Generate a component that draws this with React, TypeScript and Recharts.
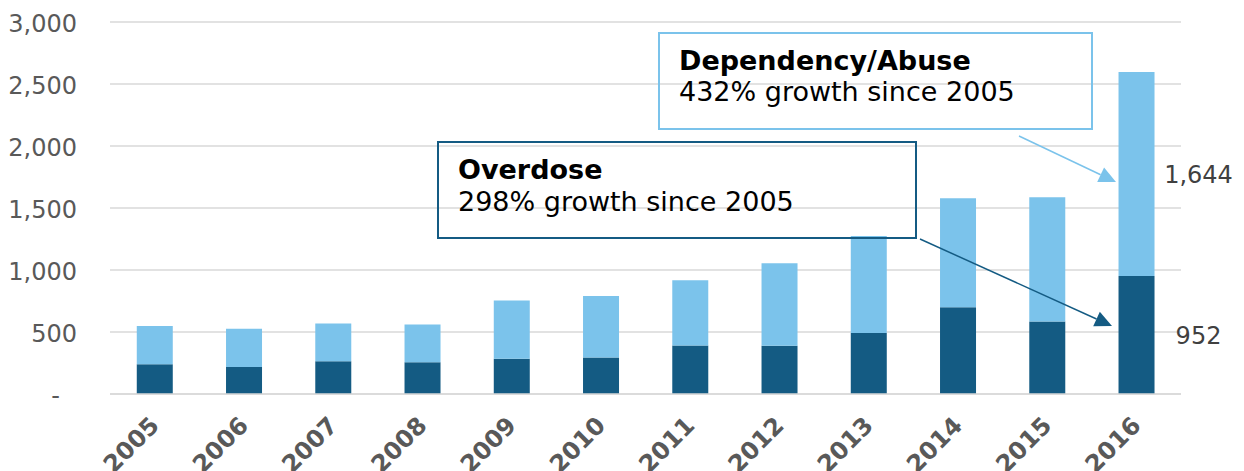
import React from 'react';
import { BarChart, Bar, XAxis, YAxis, CartesianGrid, LabelList } from 'recharts';

const years = ['2005', '2006', '2007', '2008', '2009', '2010', '2011', '2012', '2013', '2014', '2015', '2016'];
const overdose = [239, 217, 265, 257, 284, 295, 392, 389, 491, 699, 585, 952];
const dependency = [309, 309, 304, 304, 471, 495, 525, 665, 783, 880, 1002, 1644];
const yTicks = [0, 500, 1000, 1500, 2000, 2500, 3000];

const DARK = '#145b83';
const LIGHT = '#7bc3eb';
const FONT = '"DejaVu Sans", Verdana, sans-serif';

const data = years.map((year, i) => ({ year, overdose: overdose[i], dependency: dependency[i] }));

const YTick = (props: any) => {
    const { x, y, payload } = props;
    const v = payload.value;
    return (
        <text x={v === 0 ? x - 17 : x} y={y} dy={10} textAnchor="end" fill="#595959" fontSize={24} fontFamily={FONT}>
            {v === 0 ? '-' : v.toLocaleString('en-US')}
        </text>
    );
};

const XTick = (props: any) => {
    const { x, y, payload } = props;
    const tx = x + 6;
    const ty = y + 33;
    return (
        <text x={tx} y={ty} transform={`rotate(-45, ${tx}, ${ty})`} textAnchor="end" fill="#595959"
            fontSize={24} fontWeight="bold" fontFamily={FONT}>
            {payload.value}
        </text>
    );
};

const endLabel = (props: any) => {
    const { x, y, width, height, index, value } = props;
    if (index !== years.length - 1) return null;
    return (
        <text x={x + width + 44} y={y + height / 2} dy={9} textAnchor="middle" fill="#404040" fontSize={24} fontFamily={FONT}>
            {Number(value).toLocaleString('en-US')}
        </text>
    );
};

// arrow with a filled triangular head ending at (x2, y2)
const Arrow = ({ x1, y1, x2, y2, color }: { x1: number; y1: number; x2: number; y2: number; color: string }) => {
    const dx = x2 - x1;
    const dy = y2 - y1;
    const len = Math.sqrt(dx * dx + dy * dy);
    const ux = dx / len;
    const uy = dy / len;
    const hl = 17;
    const hw = 8;
    const bx = x2 - ux * hl;
    const by = y2 - uy * hl;
    const pts = `${x2},${y2} ${bx - uy * hw},${by + ux * hw} ${bx + uy * hw},${by - ux * hw}`;
    return (
        <g>
            <line x1={x1} y1={y1} x2={bx} y2={by} stroke={color} strokeWidth={1.5} />
            <polygon points={pts} fill={color} />
        </g>
    );
};

export default function App() {
    return (
        <div style={{ position: 'relative', width: 1244, height: 471, overflow: 'hidden' }}>
            <style>{'body{margin:0}'}</style>
            <BarChart
                width={1244}
                height={471}
                data={data}
                margin={{ top: 22, right: 63, left: 0, bottom: 0 }}
                barCategoryGap="30%"
            >
                <CartesianGrid vertical={false} stroke="#d9d9d9" strokeWidth={1.5} />
                <XAxis
                    dataKey="year"
                    height={77}
                    tickLine={false}
                    tickSize={0}
                    tickMargin={0}
                    axisLine={{ stroke: '#d9d9d9', strokeWidth: 1.5 }}
                    tick={<XTick />}
                    interval={0}
                />
                <YAxis
                    width={110}
                    domain={[0, 3000]}
                    ticks={yTicks}
                    axisLine={false}
                    tickLine={false}
                    tickSize={0}
                    tickMargin={33}
                    tick={<YTick />}
                />
                <Bar dataKey="overdose" stackId="a" fill={DARK} isAnimationActive={false}>
                    <LabelList dataKey="overdose" content={endLabel} />
                </Bar>
                <Bar dataKey="dependency" stackId="a" fill={LIGHT} isAnimationActive={false}>
                    <LabelList dataKey="dependency" content={endLabel} />
                </Bar>
            </BarChart>
            <svg width={1244} height={471} style={{ position: 'absolute', left: 0, top: 0, pointerEvents: 'none' }}>
                <rect x={659} y={33} width={433} height={96} fill="none" stroke={LIGHT} strokeWidth={2} />
                <text x={679} y={70} fontSize={27} fontWeight="bold" fill="#000" fontFamily={FONT}>Dependency/Abuse</text>
                <text x={679} y={101} fontSize={27} fill="#000" fontFamily={FONT}>432% growth since 2005</text>
                <Arrow x1={1019} y1={136} x2={1116} y2={182} color={LIGHT} />
                <rect x={438} y={142} width={478} height={96} fill="none" stroke={DARK} strokeWidth={2} />
                <text x={458} y={179} fontSize={27} fontWeight="bold" fill="#000" fontFamily={FONT}>Overdose</text>
                <text x={458} y={211} fontSize={27} fill="#000" fontFamily={FONT}>298% growth since 2005</text>
                <Arrow x1={920} y1={239} x2={1112} y2={326} color={DARK} />
            </svg>
        </div>
    );
}
